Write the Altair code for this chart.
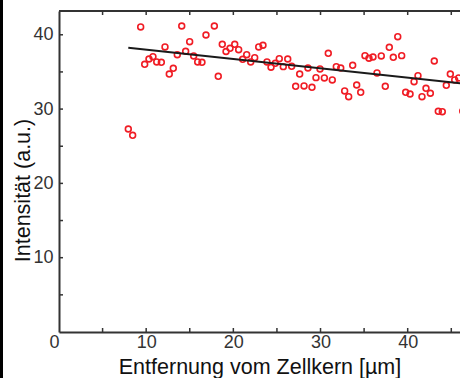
import altair as alt
import pandas as pd

# Distance from nucleus (µm) and intensity (a.u.)
dist = [7.95, 8.45, 9.37, 9.83, 10.32, 10.78, 11.21, 11.74, 12.16, 12.65,
        13.11, 13.57, 14.08, 14.53, 14.99, 15.45, 15.91, 16.40, 16.86, 17.82,
        18.27, 18.73, 19.16, 19.62, 20.16, 20.61, 21.07, 21.53, 21.99, 22.45,
        22.91, 23.40, 23.86, 24.32, 24.81, 25.27, 25.73, 26.24, 26.69, 27.15,
        27.61, 28.11, 28.56, 29.02, 29.48, 29.94, 30.44, 30.89, 31.35, 31.81,
        32.32, 32.77, 33.23, 33.69, 34.15, 34.61, 35.10, 35.56, 36.02, 36.48,
        36.97, 37.43, 37.89, 38.35, 38.86, 39.31, 39.77, 40.27, 40.73, 41.18,
        41.64, 42.10, 42.60, 43.05, 43.51, 43.97, 44.43, 44.89, 45.39, 45.85,
        46.31]
intens = [27.32, 26.47, 41.05, 36.03, 36.74, 37.05, 36.34, 36.30, 38.36, 34.72,
          35.49, 37.32, 41.18, 37.78, 39.07, 37.15, 36.34, 36.30, 39.97, 41.18,
          34.41, 38.72, 37.75, 38.18, 38.72, 37.99, 36.70, 37.32, 36.34, 36.92,
          38.36, 38.59, 36.34, 35.63, 36.16, 36.78, 35.71, 36.74, 35.76, 33.07,
          34.72, 33.11, 35.53, 32.93, 34.23, 35.40, 34.19, 37.51, 33.92, 35.71,
          35.53, 32.44, 31.67, 35.89, 33.24, 32.26, 37.19, 36.84, 37.01, 34.86,
          37.15, 33.07, 38.32, 36.97, 39.74, 37.19, 32.26, 32.03, 33.69, 34.50,
          31.67, 32.80, 32.13, 36.47, 29.70, 29.65, 33.20, 34.72, 33.92, 34.19,
          29.74]

# Linear fit line end points
fit_x = [7.95, 46.31]
fit_y = [38.26, 33.43]

# Axis ticks / labels
x_ticks = [5, 10, 15, 20, 25, 30, 35, 40, 45]
y_ticks = [5, 10, 15, 20, 25, 30, 35, 40]
x_labels = [0, 10, 20, 30, 40]
y_labels = [10, 20, 30, 40]

X_DOMAIN = [0, 46]
Y_DOMAIN = [0, 43.2]
W, H = 401, 321
FONT = "Liberation Sans"
AX = "#333333"

xs = alt.Scale(domain=X_DOMAIN, nice=False, zero=False)
ys = alt.Scale(domain=Y_DOMAIN, nice=False, zero=False)

pts_df = pd.DataFrame({"x": dist, "y": intens})
fit_df = pd.DataFrame({"x": fit_x, "y": fit_y})
xt_df = pd.DataFrame({"x": x_ticks})
yt_df = pd.DataFrame({"y": y_ticks})
one = pd.DataFrame({"a": [0]})

x_axis = alt.Axis(
    values=x_labels, ticks=False, grid=False,
    domainColor=AX, domainWidth=2,
    labelFont=FONT, labelFontSize=18, labelColor=AX, labelPadding=1,
    labelAlign={"expr": "datum.value == 0 ? 'right' : 'center'"},
    labelFlush=False, labelOverlap=False,
    titleFont=FONT, titleFontSize=21.5,
    titleFontWeight="normal", titleColor="#111111",
    titleBaseline="alphabetic", titleY=41,
)
y_axis = alt.Axis(
    values=y_labels, ticks=False, grid=False,
    domainColor=AX, domainWidth=2,
    labelFont=FONT, labelFontSize=18, labelColor=AX, labelPadding=6,
    labelFlush=False, labelOverlap=False,
    titleFont=FONT, titleFontSize=21.5,
    titleFontWeight="normal", titleColor="#111111",
    titleBaseline="alphabetic", titleX=-30, titleY=179, titleAngle=-90,
)

X = alt.X("x:Q", scale=xs, axis=x_axis, title="Entfernung vom Zellkern [µm]")
Y = alt.Y("y:Q", scale=ys, axis=y_axis, title="Intensität (a.u.)")

points = alt.Chart(pts_df).mark_point(
    shape="circle", filled=False, size=34, strokeWidth=1.6,
    color="#f01c24", clip=True, opacity=1,
).encode(x=X, y=Y)

fit = alt.Chart(fit_df).mark_line(color="#1a1a1a", strokeWidth=2, clip=True).encode(
    x=X, y=Y,
)

ticks_bottom = alt.Chart(xt_df).mark_rule(color=AX, strokeWidth=1.5).encode(
    x=X, y=alt.value(H), y2=alt.value(H - 4),
)
ticks_top = alt.Chart(xt_df).mark_rule(color=AX, strokeWidth=1.5).encode(
    x=X, y=alt.value(0), y2=alt.value(4),
)
ticks_left = alt.Chart(yt_df).mark_rule(color=AX, strokeWidth=1.5).encode(
    y=Y, x=alt.value(0), x2=alt.value(4),
)
top_border = alt.Chart(one).mark_rule(color=AX, strokeWidth=2).encode(
    x=alt.value(0), x2=alt.value(W + 2), y=alt.value(0),
)
left_band = alt.Chart(one).mark_rule(color="#000000", strokeWidth=3).encode(
    x=alt.value(-57.5), y=alt.value(-11), y2=alt.value(H + 46),
)

chart = alt.layer(
    points, fit, ticks_bottom, ticks_top, ticks_left, top_border, left_band
).properties(
    width=W, height=H,
    autosize=alt.AutoSizeParams(type="none"),
    padding={"left": 59, "top": 11, "right": 0, "bottom": 46},
    background="white",
).configure_view(stroke=None)

chart.save("out.html", embed_options={"renderer": "svg", "actions": False})
